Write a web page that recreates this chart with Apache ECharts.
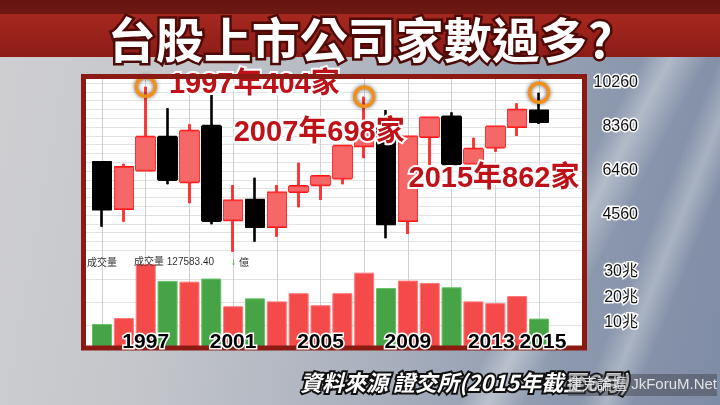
<!DOCTYPE html>
<html><head><meta charset="utf-8">
<script src="https://cdn.jsdelivr.net/npm/echarts@6/dist/echarts.min.js"></script>
<style>
html,body{margin:0;padding:0;}
#c{width:720px;height:405px;
background:
 linear-gradient(to bottom,#661410 0,#6e1813 14px,#a5281f 14px,#8d1c16 57px,rgba(0,0,0,0) 57px),
 linear-gradient(118deg, rgba(255,255,255,0) 72%, rgba(255,255,255,0.35) 75%, rgba(255,255,255,0) 79%),
 linear-gradient(112deg, rgba(255,255,255,0) 84%, rgba(255,255,255,0.3) 87%, rgba(255,255,255,0) 90%),
 linear-gradient(100deg,#cfcfd2 0%,#c4c6cb 25%,#aab1be 55%,#8c98ae 80%,#7f8ca5 100%);}
</style></head><body><div id="c"></div><script>
const years = ['1995','1996','1997','1998','1999','2000','2001','2002','2003','2004','2005','2006','2007','2008','2009','2010','2011','2012','2013','2014','2015'];
const openV  = [6836, 4832, 6490, 7928, 5985, 8403, 4344, 5208, 4055, 5566, 5856, 6145, 7540, 8274, 4314, 7941, 8805, 6793, 7484, 8373, 9064];
const closeV = [4806, 6620, 7928, 6084, 8187, 4314, 5178, 4055, 5523, 5799, 6231, 7540, 8274, 4172, 7941, 8762, 6762, 7410, 8373, 9094, 8589];
const lowV   = [4055, 4271, 6490, 5886, 5065, 4159, 2976, 3407, 3623, 4893, 5208, 5886, 7009, 3554, 3740, 6719, 6740, 6770, 7294, 7971, 8490];
const highV  = [6850, 6775, 10100, 9167, 8477, 9742, 5856, 6171, 5856, 6819, 6287, 7560, 9668, 9094, 7960, 8790, 8995, 7898, 8400, 9383, 9841];
const volumeV = [9.6, 11.9, 33.0, 26.4, 26.1, 27.3, 16.5, 19.6, 18.4, 21.6, 16.9, 21.6, 29.6, 23.6, 26.5, 25.6, 23.9, 18.4, 17.7, 20.5, 11.7];
const priceTicks = [4560, 6460, 8360, 10260];
const volumeTicks = [10, 20, 30];
const shownYears = ['1997','2001','2005','2009','2013','2015'];
const noteYears = ['1997','2007','2015'];
const noteCounts = [404, 698, 862];

const priceMin = 2660, priceMax = 10640, priceStep = 380;
const volMax = 36.1;

const FONT = '"Liberation Sans", "Noto Sans CJK TC", sans-serif';
const CJK = '"Noto Sans CJK TC", sans-serif';

const chart = echarts.init(document.getElementById('c'), null, {renderer: 'canvas'});
const candleData = years.map((y, i) => [openV[i], closeV[i], lowV[i], highV[i]]);
const upBar = {color: '#F44A4A', borderColor: '#FF7878', borderWidth: 1};
const downBar = {color: '#46A346', borderColor: '#66C266', borderWidth: 1};
const volData = years.map((y, i) => ({value: volumeV[i], itemStyle: closeV[i] >= openV[i] ? upBar : downBar}));
const evenYears = years.filter((y, i) => i % 2 === 0);
const vLines = {symbol: 'none', silent: true, animation: false, label: {show: false},
  lineStyle: {color: '#D0D0D0', width: 1, type: 'solid', opacity: 1}, emphasis: {disabled: true},
  data: evenYears.map(y => ({xAxis: y}))};
const noteLabelPos = [
  {position: 'right', distance: 12, offset: [0, -2]},
  {position: 'inside', offset: [-45, 36]},
  {position: 'inside', offset: [-45, 86]}
];
const noteData = noteYears.map((y, k) => ({
  value: [y, highV[years.indexOf(y)]],
  label: noteLabelPos[k]
}));

const grids = [
  {left: 91.1, width: 458.8, top: 74.2, height: 184.8},
  {left: 91.1, width: 458.8, top: 256, height: 92.6},
  {left: 86, width: 496, top: 74.2, height: 184.8},
  {left: 86, width: 496, top: 256, height: 92.6}
].map(g => Object.assign(g, {containLabel: false, outerBoundsMode: 'none'}));

const yLabelStyle = {fontSize: 16, color: '#111', fontFamily: FONT, textBorderColor: '#fff', textBorderWidth: 3, align: 'right', margin: 56};
const xLabelBase = {fontSize: 21, fontWeight: 'bold', color: '#000', fontFamily: FONT, textBorderColor: '#fff', textBorderWidth: 3};

chart.setOption({
  animation: false,
  grid: grids,
  xAxis: [
    {type: 'category', gridIndex: 0, data: years, show: false},
    {type: 'category', gridIndex: 1, data: years, z: 60,
      axisLine: {show: false}, axisTick: {show: false}, splitLine: {show: false},
      axisLabel: Object.assign({}, xLabelBase, {
        interval: (i, v) => shownYears.includes(v), margin: -17,
        formatter: v => v === '2013' ? '{a|' + v + '}' : (v === '2015' ? '{b|' + v + '}' : v),
        rich: {
          a: Object.assign({}, xLabelBase, {padding: [0, 8, 0, 0]}),
          b: Object.assign({}, xLabelBase, {padding: [0, 0, 0, 8]})
        }
      })},
    {type: 'value', gridIndex: 2, min: 0, max: 1, show: false},
    {type: 'value', gridIndex: 3, min: 0, max: 1, position: 'top',
      axisLine: {show: true, lineStyle: {color: '#EE9EEE', width: 1.5}},
      axisTick: {show: false}, axisLabel: {show: false}, splitLine: {show: false}}
  ],
  yAxis: [
    {type: 'value', gridIndex: 0, min: priceMin, max: priceMax, show: false},
    {type: 'value', gridIndex: 1, min: 0, max: volMax, show: false},
    {type: 'value', gridIndex: 2, min: priceMin, max: priceMax, interval: priceStep, position: 'right',
      axisLine: {show: false}, axisTick: {show: false},
      splitLine: {show: true, showMinLine: false, showMaxLine: false, lineStyle: {color: '#E3E3E3', width: 1}},
      axisLabel: Object.assign({}, yLabelStyle, {formatter: v => priceTicks.includes(v) ? String(v) : ''})},
    {type: 'value', gridIndex: 3, min: 0, max: volMax, interval: volMax / 4, position: 'left',
      axisLine: {show: false}, axisTick: {show: false}, axisLabel: {show: false},
      splitLine: {show: true, showMinLine: false, showMaxLine: false, lineStyle: {color: '#E3E3E3', width: 1}}},
    {type: 'value', gridIndex: 3, min: 0, max: volMax, interval: 10, position: 'right',
      axisLine: {show: false}, axisTick: {show: false}, splitLine: {show: false},
      axisLabel: Object.assign({}, yLabelStyle, {formatter: v => volumeTicks.includes(v) ? v + '兆' : ''})}
  ],
  series: [
    {type: 'line', xAxisIndex: 0, yAxisIndex: 0, data: years.map(() => '-'), z: 1, silent: true, markLine: vLines},
    {type: 'candlestick', xAxisIndex: 0, yAxisIndex: 0, data: candleData, barWidth: 17, z: 7, silent: true,
      itemStyle: {color: '#FF1010', color0: '#000', borderColor: '#FF1010', borderColor0: '#000', borderWidth: 2.6}},
    {type: 'candlestick', xAxisIndex: 0, yAxisIndex: 0, data: candleData, barWidth: 20, z: 8, silent: true,
      itemStyle: {color: '#F66868', color0: '#000', borderColor: '#FF3030', borderColor0: '#000', borderWidth: 1}},
    {type: 'line', xAxisIndex: 1, yAxisIndex: 1, data: years.map(() => '-'), z: 1, silent: true, markLine: vLines},
    {type: 'bar', xAxisIndex: 1, yAxisIndex: 1, data: volData, barWidth: 20, z: 7, silent: true},
    {type: 'scatter', xAxisIndex: 0, yAxisIndex: 0, data: noteData, symbol: 'circle', symbolSize: 19, z: 12, silent: true,
      itemStyle: {color: 'rgba(0,0,0,0)', opacity: 1, borderColor: '#F39019', borderWidth: 3.5, shadowBlur: 4, shadowColor: 'rgba(0,0,0,0.6)'},
      label: {show: true, opacity: 1, fontSize: 29, fontWeight: 'bold', fontFamily: FONT, color: '#BF1218',
        textBorderColor: '#fff', textBorderWidth: 4,
        formatter: p => noteYears[p.dataIndex] + '年' + noteCounts[p.dataIndex] + '家'}}
  ],
  graphic: {elements: [
    {type: 'rect', z: -10, shape: {x: 86, y: 79, width: 496, height: 267}, style: {fill: '#fff'}, silent: true},
    {type: 'rect', z: 50, shape: {x: 83.5, y: 76.5, width: 501, height: 271.5}, style: {fill: 'none', stroke: '#8B1A12', lineWidth: 5}, silent: true},
    {type: 'text', z: 100, x: 360, y: 40, silent: true,
      style: {text: '台股上市公司家數過多?', font: 'bold 48px ' + CJK, fill: '#fff', stroke: '#4d0a07', lineWidth: 5,
        textAlign: 'center', textVerticalAlign: 'middle', shadowColor: 'rgba(0,0,0,0.55)', shadowOffsetY: 3, shadowBlur: 3}},
    {type: 'text', z: 60, x: 87, y: 262, silent: true, style: {text: '成交量', font: '10px ' + CJK, fill: '#333', textVerticalAlign: 'middle'}},
    {type: 'text', z: 60, x: 134, y: 262, silent: true, style: {text: '成交量 127583.40', font: '10px ' + FONT, fill: '#333', textVerticalAlign: 'middle'}},
    {type: 'text', z: 60, x: 231, y: 262, silent: true, style: {text: '↓', font: 'bold 10px ' + FONT, fill: '#1a9a1a', textVerticalAlign: 'middle'}},
    {type: 'text', z: 60, x: 239, y: 262, silent: true, style: {text: '億', font: '10px ' + CJK, fill: '#333', textVerticalAlign: 'middle'}},
    {type: 'text', z: 100, x: 300, y: 383, silent: true,
      style: {text: '資料來源 證交所(2015年截至6月)', font: 'italic bold 22px ' + CJK, fill: '#fff', stroke: '#111', lineWidth: 4, textVerticalAlign: 'middle'}},
    {type: 'rect', z: 110, shape: {x: 568, y: 374, width: 149, height: 22}, style: {fill: 'rgba(60,62,72,0.45)'}, silent: true},
    {type: 'text', z: 111, x: 642, y: 385, silent: true,
      style: {text: '捷克論壇 JkForuM.Net', font: '15px ' + FONT, fill: 'rgba(240,240,240,0.9)', textAlign: 'center', textVerticalAlign: 'middle'}}
  ]}
});
</script></body></html>
